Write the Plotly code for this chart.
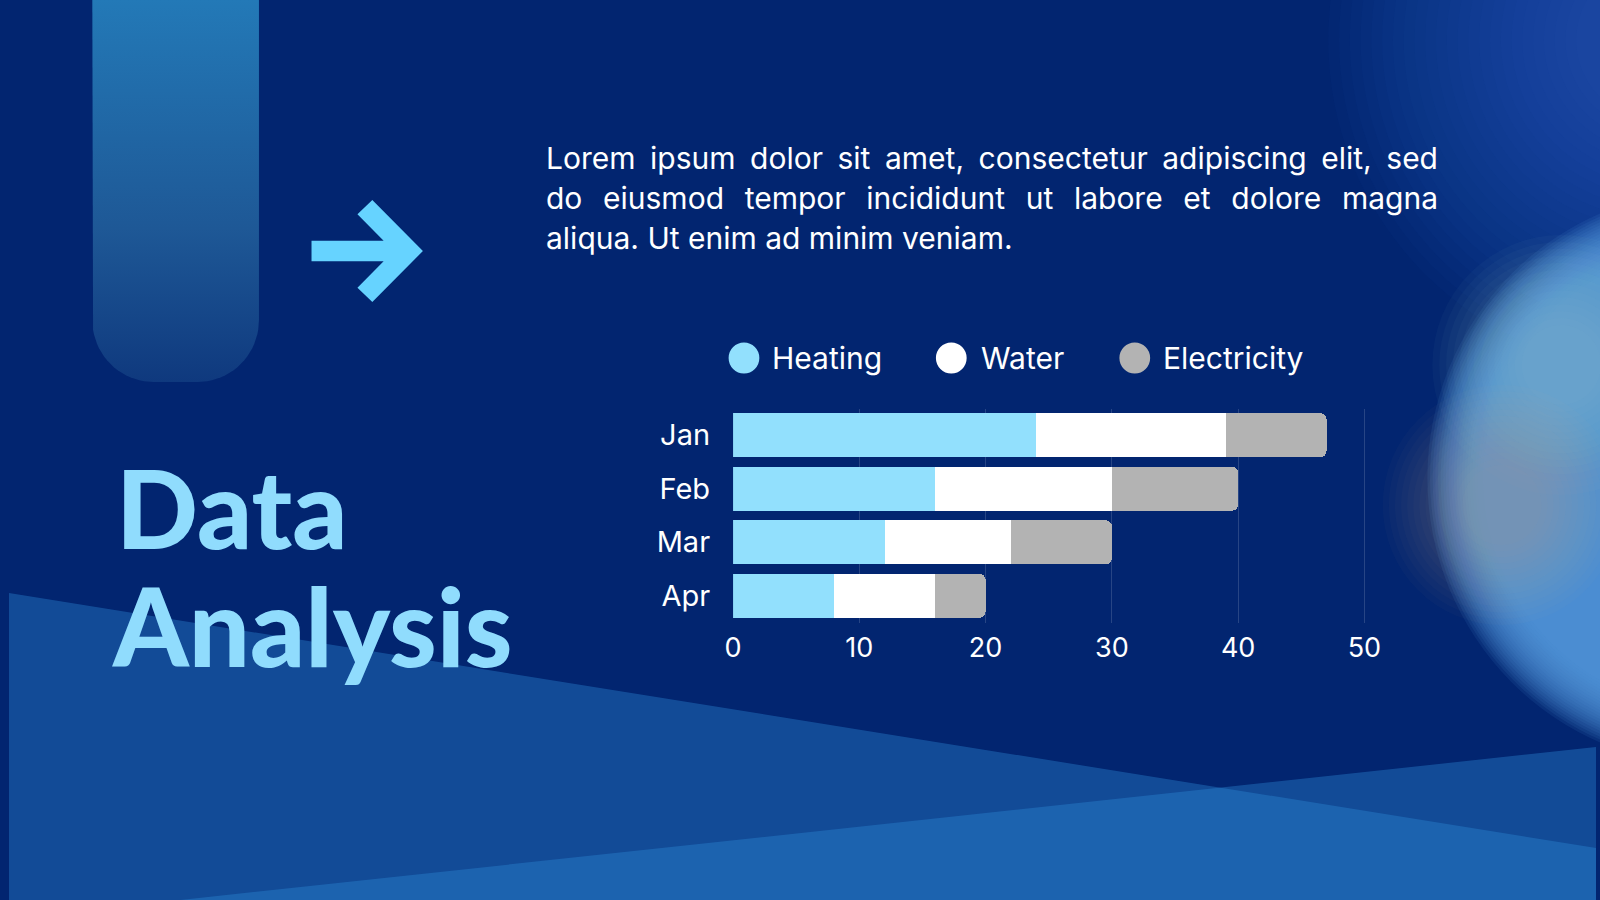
import json
import math
import plotly.graph_objects as go

W, H = 1600, 900
BG = '#022570'

# chart data
months = ['Jan', 'Feb', 'Mar', 'Apr']
heating = [24, 16, 12, 8]
water = [15, 14, 10, 8]
electricity = [8, 10, 8, 4]

series_names = ['Heating', 'Water', 'Electricity']
series_colors = ['#92e0fd', '#ffffff', '#b3b3b3']
x_ticks = [0, 10, 20, 30, 40, 50]

title_lines = ['Data', 'Analysis']
para_line1 = ['Lorem', 'ipsum', 'dolor', 'sit', 'amet,', 'consectetur', 'adipiscing', 'elit,', 'sed']
para_line2 = ['do', 'eiusmod', 'tempor', 'incididunt', 'ut', 'labore', 'et', 'dolore', 'magna']
para_line3 = 'aliqua. Ut enim ad minim veniam.'


def px(x):
    return x / W


def py(y):
    return 1 - y / H


fig = go.Figure()

for name, vals, color in zip(series_names, [heating, water, electricity], series_colors):
    fig.add_trace(go.Bar(
        y=months, x=vals, name=name, orientation='h',
        marker=dict(color=color, line=dict(width=0)),
        showlegend=False, hoverinfo='x+name'))

# pill with rounded bottom (top left), drawn on a pixel overlay axis
left, right, bottom, r = 84, 252, 382, 62
pill_x, pill_y = [left], [0]
for i in range(21):
    t = math.pi - i * (math.pi / 2) / 20
    pill_x.append(left + r + r * math.cos(t))
    pill_y.append(bottom - r + r * math.sin(t))
for i in range(21):
    t = math.pi / 2 - i * (math.pi / 2) / 20
    pill_x.append(right - r + r * math.cos(t))
    pill_y.append(bottom - r + r * math.sin(t))
pill_x += [right, left]
pill_y += [0, 0]
fig.add_trace(go.Scatter(
    x=pill_x, y=[H - v for v in pill_y], xaxis='x2', yaxis='y2',
    mode='lines', line=dict(width=0), fill='toself',
    fillgradient=dict(type='vertical',
                      colorscale=[[0, '#0f397e'], [0.4, '#1e5896'], [1, '#2379b7']]),
    showlegend=False, hoverinfo='skip'))

shapes = []

# soft background bands at the bottom
band_color = '#2c8cd8'
shapes.append(dict(type='path', xref='paper', yref='paper', layer='below',
                   path=f'M {px(0)} {py(593)} L {px(1600)} {py(848)} L {px(1600)} {py(900)} L {px(0)} {py(900)} Z',
                   fillcolor=band_color, opacity=0.38, line=dict(width=0)))
shapes.append(dict(type='path', xref='paper', yref='paper', layer='below',
                   path=f'M {px(173)} {py(900)} L {px(1600)} {py(747)} L {px(1600)} {py(900)} Z',
                   fillcolor=band_color, opacity=0.38, line=dict(width=0)))


def soft_circle(cx, cy, r_out, r_in, steps, color, op):
    for k in range(steps):
        rr = r_out - (r_out - r_in) * k / (steps - 1)
        shapes.append(dict(type='circle', xref='paper', yref='paper', layer='below',
                           x0=px(cx - rr), x1=px(cx + rr), y0=py(cy + rr), y1=py(cy - rr),
                           fillcolor=color, opacity=op, line=dict(width=0)))


# glow in the top right corner and the blurred sphere on the right
soft_circle(1660, 40, 330, 80, 24, '#2f72c8', 0.04)
soft_circle(1718, 478, 288, 232, 22, '#5a9ae0', 0.1)
soft_circle(1565, 365, 130, 40, 14, '#8fd0c0', 0.04)
soft_circle(1505, 505, 120, 40, 14, '#d8a898', 0.028)

# arrow
arrow = [(305, 240.7), (377.7, 240.7), (351.3, 214.3), (366.3, 200), (417.3, 251),
         (366.3, 302), (351.3, 287.7), (377.7, 261.3), (305, 261.3)]
path = 'M ' + ' L '.join(f'{px(a)} {py(b)}' for a, b in arrow) + ' Z'
shapes.append(dict(type='path', xref='paper', yref='paper', path=path,
                   fillcolor='#66d3ff', line=dict(width=0)))

# legend circles
legend_cx = [741, 950, 1135]
legend_tx = [767, 978, 1161]
legend_y = 358
for cx, color in zip(legend_cx, series_colors):
    shapes.append(dict(type='circle', xref='paper', yref='paper',
                       x0=px(cx - 15.5), x1=px(cx + 15.5), y0=py(legend_y + 15.5), y1=py(legend_y - 15.5),
                       fillcolor=color, line=dict(width=0)))

annotations = []
for tx, name in zip(legend_tx, series_names):
    annotations.append(dict(x=px(tx), y=py(legend_y), xref='paper', yref='paper', text=name,
                            showarrow=False, xanchor='left', yanchor='middle',
                            font=dict(family='Inter', size=30, color='white')))

# title
title_font = dict(family='Lato', size=108, color='#90dcfd', weight=900)
annotations.append(dict(x=px(106), y=py(507), xref='paper', yref='paper', text=title_lines[0],
                        showarrow=False, xanchor='left', yanchor='middle', font=title_font))
annotations.append(dict(x=px(102), y=py(625), xref='paper', yref='paper', text=title_lines[1],
                        showarrow=False, xanchor='left', yanchor='middle', font=title_font))

# paragraph: one annotation per word on the two justified lines,
# the page script below evens out the gaps to the full column width
para_font = dict(family='Inter', size=30, color='white')
line1_x = [539, 616, 705, 800, 845, 943, 1106, 1270, 1340]
line2_x = [539, 597, 739, 860, 1020, 1068, 1176, 1226, 1336]
word_groups = []
for line_y, words, xs in [(158, para_line1, line1_x), (198, para_line2, line2_x)]:
    idx = []
    for wx, word in zip(xs, words):
        idx.append(len(annotations))
        annotations.append(dict(x=px(wx), y=py(line_y), xref='paper', yref='paper', text=word,
                                showarrow=False, xanchor='left', yanchor='middle', font=para_font))
    word_groups.append(idx)
annotations.append(dict(x=px(539), y=py(238), xref='paper', yref='paper', text=para_line3,
                        showarrow=False, xanchor='left', yanchor='middle', font=para_font))

unit = 12.73
x_left = 730
fig.update_layout(
    width=W, height=H,
    margin=dict(l=0, r=0, t=0, b=0),
    paper_bgcolor=BG, plot_bgcolor='rgba(0,0,0,0)',
    barmode='stack', bargap=0.18, barcornerradius=6,
    font=dict(family='Inter', color='white'),
    xaxis=dict(domain=[px(x_left), px(x_left + 51 * unit)], range=[0, 51],
               tickvals=x_ticks, showgrid=True, gridcolor='rgba(255,255,255,0.15)', gridwidth=1,
               zeroline=False, showline=False, ticks='',
               tickfont=dict(family='Inter', size=27, color='white'), ticklabelstandoff=6,
               fixedrange=True),
    yaxis=dict(domain=[py(622.6), py(408.5)], autorange='reversed',
               showgrid=False, zeroline=False, showline=False, ticks='',
               tickfont=dict(family='Inter', size=29, color='white'), ticklabelstandoff=22,
               fixedrange=True),
    xaxis2=dict(domain=[0, 1], range=[0, W], anchor='y2', visible=False, fixedrange=True),
    yaxis2=dict(domain=[0, 1], range=[0, H], anchor='x2', visible=False, fixedrange=True),
    shapes=shapes,
    annotations=annotations,
)

justify_js = """
document.body.style.margin = '0';
var groups = %s;
var target = 892;
groups.forEach(function (idx) {
    var els = idx.map(function (i) {
        return document.querySelector('g.annotation[data-index="' + i + '"]');
    });
    if (els.some(function (g) { return !g; })) return;
    var texts = els.map(function (g) { return g.querySelector('text.annotation-text'); });
    var widths = texts.map(function (t) { return t.getComputedTextLength(); });
    var total = widths.reduce(function (a, b) { return a + b; }, 0);
    var gap = (target - total) / (els.length - 1);
    var pos = texts[0].getBoundingClientRect().left;
    els.forEach(function (g, k) {
        var cur = texts[k].getBoundingClientRect().left;
        g.setAttribute('transform', 'translate(' + (pos - cur) + ',0)');
        pos += widths[k] + gap;
    });
});
""" % json.dumps(word_groups)

fig.write_html('out.html', config={'displayModeBar': False}, post_script=justify_js)
